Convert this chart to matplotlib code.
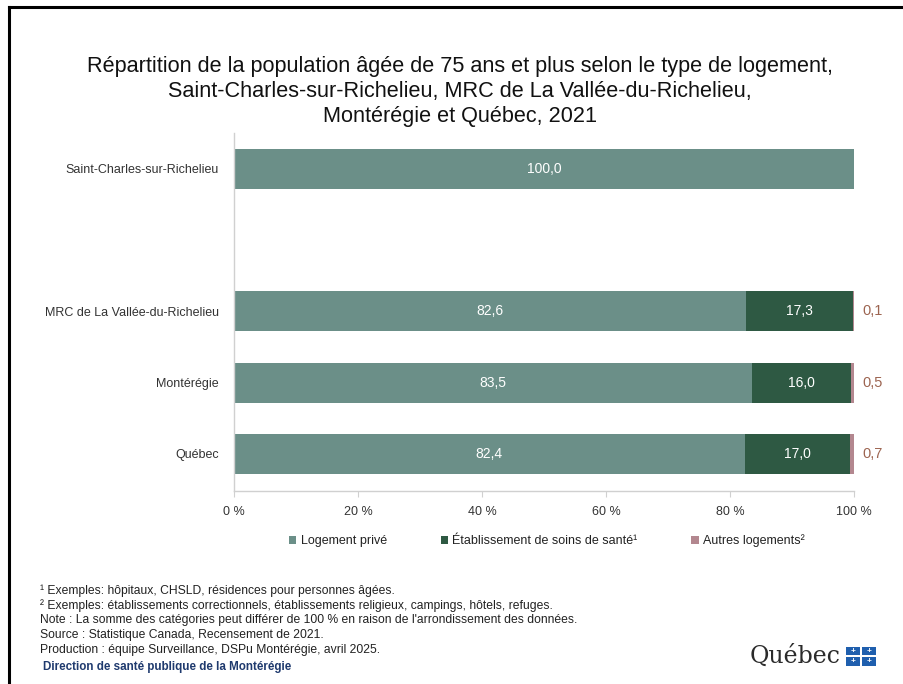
import matplotlib
matplotlib.use("Agg")
import matplotlib.pyplot as plt
from matplotlib.lines import Line2D
from matplotlib.patches import Rectangle, Patch

plt.rcParams["font.family"] = ["Liberation Sans", "DejaVu Sans"]

# données
categories = ["Saint-Charles-sur-Richelieu", "MRC de La Vallée-du-Richelieu", "Montérégie", "Québec"]
positions = [0, 2, 3, 4]
prive = [100.0, 82.6, 83.5, 82.4]
soins = [0.0, 17.3, 16.0, 17.0]
autres = [0.0, 0.1, 0.5, 0.7]
series_names = ["Logement privé", "Établissement de soins de santé¹", "Autres logements²"]
xticks = [0, 20, 40, 60, 80, 100]

colors = ["#6b8f88", "#2e5943", "#b3878f"]
label_out_color = "#9c6450"

title = ("Répartition de la population âgée de 75 ans et plus selon le type de logement,\n"
         "Saint-Charles-sur-Richelieu, MRC de La Vallée-du-Richelieu,\n"
         "Montérégie et Québec, 2021")

notes = [
    "¹ Exemples: hôpitaux, CHSLD, résidences pour personnes âgées.",
    "² Exemples: établissements correctionnels, établissements religieux, campings, hôtels, refuges.",
    "Note : La somme des catégories peut différer de 100 % en raison de l'arrondissement des données.",
    "Source : Statistique Canada, Recensement de 2021.",
    "Production : équipe Surveillance, DSPu Montérégie, avril 2025.",
]


def fmt(v):
    return "{:.1f}".format(v).replace(".", ",")


fig = plt.figure(figsize=(9.04, 6.84), dpi=100)
ax = fig.add_axes([0.2588, 0.2822, 0.6858, 0.5234])

h = 0.56
left = [0.0] * len(prive)
for vals, col in zip([prive, soins, autres], colors):
    ax.barh(positions, vals, left=left, height=h, color=col, edgecolor="none")
    left = [l + v for l, v in zip(left, vals)]

# étiquettes
for y, p, s, a in zip(positions, prive, soins, autres):
    if p > 0:
        ax.text(p / 2, y, fmt(p), color="white", ha="center", va="center", fontsize=10)
    if s > 0:
        ax.text(p + s / 2, y, fmt(s), color="white", ha="center", va="center", fontsize=10)
    if a > 0:
        ax.text(101.4, y, fmt(a), color=label_out_color, ha="left", va="center", fontsize=10.5)

ax.set_xlim(0, 100)
ax.set_ylim(4.52, -0.5)
ax.set_yticks(positions)
ax.set_yticklabels(categories, fontsize=9, color="#333333")
ax.tick_params(axis="y", length=0, pad=11)
ax.set_xticks(xticks)
ax.set_xticklabels(["{} %".format(t) for t in xticks], fontsize=9, color="#333333")
ax.tick_params(axis="x", length=4, color="#d0d0d0", pad=7)

for sp in ["top", "right"]:
    ax.spines[sp].set_visible(False)
for sp in ["left", "bottom"]:
    ax.spines[sp].set_color("#d0d0d0")
    ax.spines[sp].set_linewidth(1)

fig.text(0.509, 0.866, title, ha="center", va="center", fontsize=15.6,
         linespacing=1.27, color="#111111")

handles = [Patch(facecolor=c, edgecolor="none") for c in colors]
fig.legend(handles, series_names, loc="center", bbox_to_anchor=(0.605, 0.209), ncol=3,
           frameon=False, fontsize=9, handlelength=0.6, handleheight=0.6,
           handletextpad=0.35, columnspacing=4.3, labelcolor="#222222")

y0 = 0.136
for i, line in enumerate(notes):
    fig.text(0.044, y0 - i * 0.0215, line, fontsize=8.7, color="#222222", va="center")
fig.text(0.048, 0.025, "Direction de santé publique de la Montérégie", fontsize=8.4,
         color="#1f3a6e", va="center", fontweight="bold")

# logo Québec
fig.text(0.930, 0.040, "Québec", fontsize=17, color="#2b2b2b", ha="right", va="center",
         family=["DejaVu Serif"])
for dx in [0, 1]:
    for dy in [0, 1]:
        x = 0.936 + dx * 0.0175
        y = 0.027 + dy * 0.0150
        fig.patches.append(Rectangle((x, y), 0.0150, 0.0125, transform=fig.transFigure,
                                     facecolor="#1f5fae", edgecolor="none"))
        fig.text(x + 0.0075, y + 0.0062, "+", fontsize=6, color="white",
                 ha="center", va="center", fontweight="bold")

# cadre
fig.add_artist(Line2D([0.010, 1.0], [0.990, 0.990], color="black", lw=2.2,
                      transform=fig.transFigure))
fig.add_artist(Line2D([0.010, 0.010], [0.0, 0.990], color="black", lw=2.2,
                      transform=fig.transFigure))

fig.savefig("out.png", dpi=100)
